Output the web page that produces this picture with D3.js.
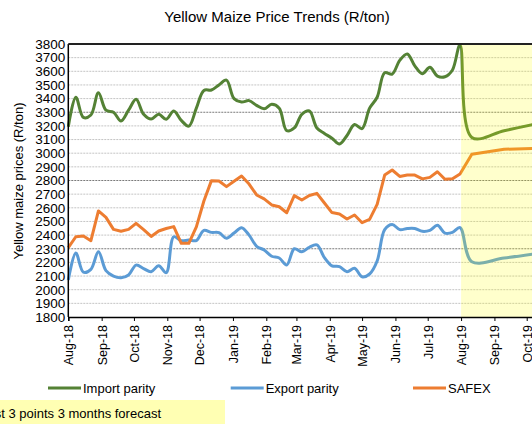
<!DOCTYPE html>
<html>
<head>
<meta charset="utf-8">
<script src="https://cdn.jsdelivr.net/npm/d3@7"></script>
<style>
  body { margin: 0; background: #fff; }
  svg { display: block; font-family: "Liberation Sans", Arial, sans-serif; }
</style>
</head>
<body>
<div id="chart"></div>
<script>
// DATA ---------------------------------------------------------------------
// weekly observations Aug-18 .. Jul-19, then 3 monthly forecast points
const weekStart = '2018-08-01';
const weekCount = 53;
const forecastDates = ['2019-08-11', '2019-09-10', '2019-10-10'];

const importParity = [3194, 3410, 3262, 3280, 3443, 3315, 3300, 3236, 3315, 3395,
  3285, 3250, 3285, 3248, 3309, 3240, 3198, 3330, 3460, 3463, 3500, 3535, 3400,
  3375, 3385, 3350, 3325, 3358, 3329, 3165, 3185, 3285, 3310, 3185, 3145, 3110,
  3067, 3130, 3210, 3180, 3330, 3410, 3590, 3580, 3680, 3727, 3640, 3582, 3629,
  3565, 3560, 3610, 3793,
  3115, 3165, 3215];

const exportParity = [2071, 2268, 2128, 2149, 2278, 2140, 2100, 2088, 2108, 2180,
  2155, 2132, 2176, 2125, 2388, 2359, 2364, 2360, 2435, 2420, 2418, 2377, 2415,
  2454, 2400, 2318, 2291, 2245, 2232, 2181, 2300, 2278, 2311, 2328, 2235, 2175,
  2169, 2132, 2157, 2095, 2115, 2210, 2440, 2478, 2440, 2448, 2448, 2428, 2435,
  2472, 2415, 2420, 2455,
  2205, 2232, 2265];

const safex = [2308, 2388, 2393, 2359, 2577, 2530, 2442, 2428, 2442, 2486,
  2440, 2390, 2430, 2448, 2462, 2340, 2340, 2460, 2650, 2799, 2796, 2755, 2795,
  2833, 2774, 2694, 2665, 2621, 2608, 2564, 2689, 2657, 2690, 2706, 2635, 2565,
  2555, 2518, 2547, 2491, 2515, 2625, 2840, 2877, 2830, 2840, 2840, 2812, 2823,
  2864, 2809, 2812, 2848,
  2992, 3029, 3035];

const seriesNames = ['Import parity', 'Export parity', 'SAFEX'];
const seriesColors = ['#548235', '#5b9bd5', '#ed7d31'];
const yTicks = d3.range(1800, 3801, 100);
const forecastStart = '2019-08-01';
const xDomain = ['2018-08-01', '2019-10-20'];
const footnote = 'Last 3 points 3 months forecast';

// CHART INIT ---------------------------------------------------------------
const W = 532, H = 424;
const margin = ({top: 44, left: 68.3, bottom: 107});
const innerH = H - margin.top - margin.bottom;

const parse = d3.timeParse('%Y-%m-%d');
const weeks = d3.range(weekCount).map(i => d3.timeDay.offset(parse(weekStart), 7 * i));
const dates = weeks.concat(forecastDates.map(parse));

const svg = d3.select('#chart')
  .append('svg')
  .attr('width', W)
  .attr('height', H);

const g = svg.append('g')
  .attr('transform', 'translate(' + margin.left + ',' + margin.top + ')');

// ~1.076 px per day, plot runs off the right edge like the original
const xScale = d3.scaleTime()
  .domain(xDomain.map(parse))
  .range([0, 445 * 1.0761]);

const yScale = d3.scaleLinear()
  .domain([1800, 3800])
  .range([innerH, 0]);

const xMax = xScale.range()[1];

// gridlines
g.append('g')
  .selectAll('line')
  .data(yTicks.filter(v => v > 1800 && v < 3800))
  .join('line')
  .attr('x1', 0)
  .attr('x2', xMax)
  .attr('y1', d => yScale(d))
  .attr('y2', d => yScale(d))
  .attr('stroke', d => (d - 1800) % 500 === 0 ? '#7a7a7a' : '#c4c4c4')
  .attr('stroke-width', 1)
  .attr('stroke-dasharray', '2,1');

// lines
const seriesData = [importParity, exportParity, safex];
const curves = [d3.curveCatmullRom, d3.curveCatmullRom, d3.curveLinear];

seriesData.forEach((vals, k) => {
  const line = d3.line()
    .x((d, i) => xScale(dates[i]))
    .y(d => yScale(d))
    .curve(curves[k]);
  g.append('path')
    .datum(vals)
    .attr('fill', 'none')
    .attr('stroke', seriesColors[k])
    .attr('stroke-width', 3)
    .attr('stroke-linejoin', 'round')
    .attr('d', line);
});

// forecast shading over the lines
g.append('rect')
  .attr('x', xScale(parse(forecastStart)))
  .attr('y', 0)
  .attr('width', xMax - xScale(parse(forecastStart)) + 20)
  .attr('height', innerH)
  .attr('fill', '#ffff00')
  .attr('fill-opacity', 0.2);

// axes
const xAxis = d3.axisBottom(xScale)
  .ticks(d3.timeMonth.every(1))
  .tickFormat(d3.timeFormat('%b-%y'))
  .tickSize(4);

const yAxis = d3.axisLeft(yScale)
  .tickValues(yTicks)
  .tickFormat(d3.format('d'))
  .tickSize(0)
  .tickPadding(3);

const gx = g.append('g')
  .attr('transform', 'translate(0,' + innerH + ')')
  .call(xAxis);
gx.select('.domain').attr('stroke', '#000').attr('stroke-width', 1.5);
gx.selectAll('.tick line').attr('stroke', '#000');
gx.selectAll('.tick text')
  .attr('font-size', '12.5px')
  .attr('fill', '#000')
  .attr('text-anchor', 'end')
  .attr('dy', '0.35em')
  .attr('transform', 'translate(0,8) rotate(-90)')
  .attr('x', 0)
  .attr('y', 0);

const gy = g.append('g').call(yAxis);
gy.select('.domain').remove();
gy.selectAll('.tick text')
  .attr('font-size', '13.5px')
  .attr('fill', '#000');

g.append('line')
  .attr('x1', 0).attr('x2', 0)
  .attr('y1', 0).attr('y2', innerH)
  .attr('stroke', '#000').attr('stroke-width', 1.5);

g.append('line')
  .attr('x1', 0).attr('x2', xMax + 20)
  .attr('y1', 0).attr('y2', 0)
  .attr('stroke', '#222').attr('stroke-width', 2);

// title and axis label
svg.append('text')
  .attr('x', 277)
  .attr('y', 22)
  .attr('text-anchor', 'middle')
  .attr('font-size', '15px')
  .text('Yellow Maize Price Trends (R/ton)');

svg.append('text')
  .attr('transform', 'translate(23,181) rotate(-90)')
  .attr('text-anchor', 'middle')
  .attr('font-size', '13px')
  .text('Yellow maize prices (R/ton)');

// legend
const legendX = [48, 230.7, 413];
const legend = svg.append('g')
  .selectAll('g')
  .data(seriesNames)
  .join('g')
  .attr('transform', (d, i) => 'translate(' + legendX[i] + ',388)');

legend.append('line')
  .attr('x1', 0).attr('x2', 33)
  .attr('stroke', (d, i) => seriesColors[i])
  .attr('stroke-width', 3);

legend.append('text')
  .attr('x', 35)
  .attr('y', 4.5)
  .attr('font-size', '13px')
  .text(d => d);

// footnote box
svg.append('rect')
  .attr('x', 0).attr('y', 400)
  .attr('width', 225).attr('height', 24)
  .attr('fill', '#ffffb3');

svg.append('text')
  .attr('x', 161)
  .attr('y', 418)
  .attr('text-anchor', 'end')
  .attr('font-size', '13px')
  .text(footnote);
</script>
</body>
</html>
